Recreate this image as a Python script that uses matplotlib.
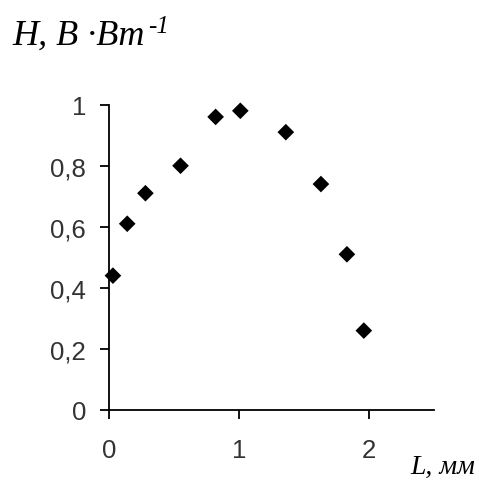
#!/usr/bin/env python3
import matplotlib
matplotlib.use('Agg')
import matplotlib.pyplot as plt
from matplotlib.ticker import FuncFormatter

# values
L_mm = [0.03, 0.14, 0.28, 0.55, 0.82, 1.01, 1.36, 1.63, 1.83, 1.96]
H_vals = [0.44, 0.61, 0.71, 0.80, 0.96, 0.98, 0.91, 0.74, 0.51, 0.26]
xticks = [0, 1, 2]
yticks = [0, 0.2, 0.4, 0.6, 0.8, 1.0]

tick_font = 'Liberation Sans'
label_font = 'Liberation Serif'

fig = plt.figure(figsize=(4.79, 4.85), dpi=100)
ax = fig.add_axes([0.2276, 0.1526, 0.6785, 0.6295])

ax.scatter(L_mm, H_vals, marker='D', s=72, color='black', edgecolors='none', clip_on=False, zorder=3)

ax.set_xlim(0, 2.5)
ax.set_ylim(0, 1)
ax.set_xticks(xticks)
ax.set_yticks(yticks)
ax.yaxis.set_major_formatter(FuncFormatter(lambda v, p: ('%g' % round(v, 1)).replace('.', ',')))

for side in ['top', 'right']:
	ax.spines[side].set_visible(False)
for side in ['left', 'bottom']:
	ax.spines[side].set_linewidth(1.3)
	ax.spines[side].set_color('black')

ax.tick_params(direction='out', length=6.5, width=1.3, color='black', labelcolor='#333333')
ax.tick_params(axis='y', pad=10)
ax.tick_params(axis='x', pad=14)
for lbl in ax.get_xticklabels() + ax.get_yticklabels():
	lbl.set_fontfamily(tick_font)
	lbl.set_fontsize(18.5)

# axis titles, set like the original: italic serif, unit after comma
ylab = fig.text(0.025, 0.907, 'H, B ·Bm', fontfamily=label_font, fontstyle='italic', fontsize=26, ha='left', va='baseline')
# superscript goes right after the main text
fig.canvas.draw()
bb = ylab.get_window_extent()
fig.text((bb.x1 + 4) / fig.bbox.width, 0.932, '-1', fontfamily=label_font, fontstyle='italic', fontsize=18, ha='left', va='baseline')
fig.text(0.992, 0.023, 'L, мм', fontfamily=label_font, fontstyle='italic', fontsize=20, ha='right', va='baseline')

plt.savefig('out.png', dpi=100)
